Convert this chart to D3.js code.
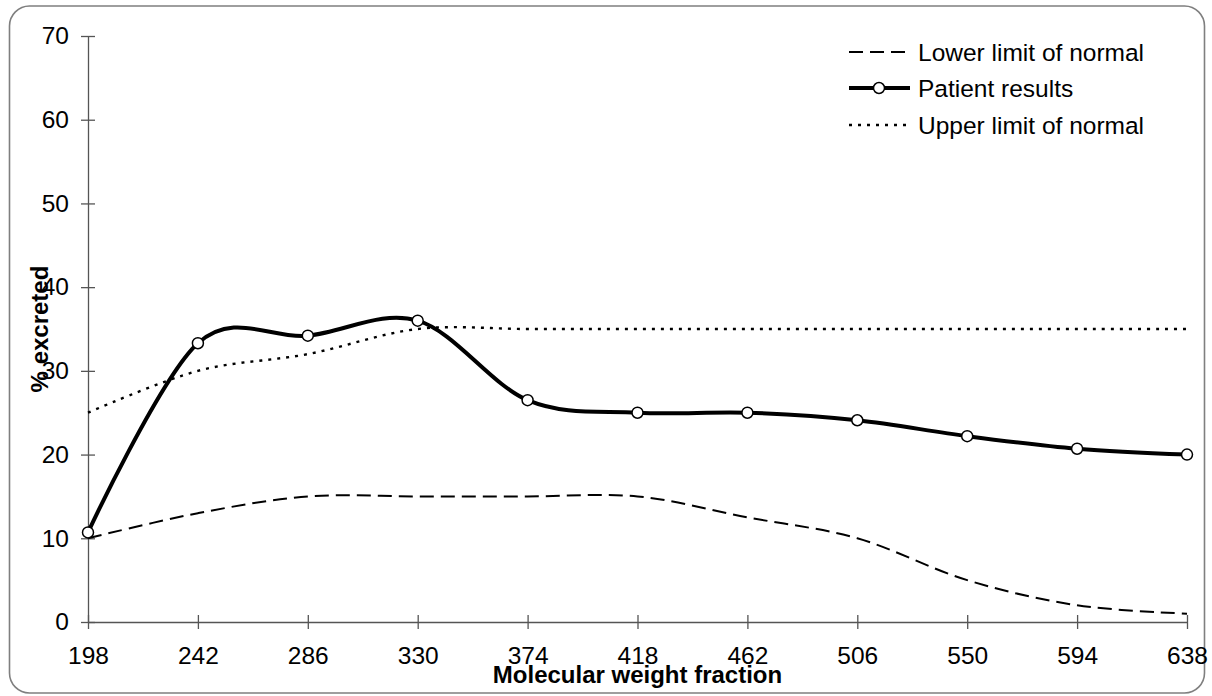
<!DOCTYPE html>
<html>
<head>
<meta charset="utf-8">
<script src="https://cdn.jsdelivr.net/npm/d3@7"></script>
<style>
  body { margin: 0; background: #fff; }
  svg { display: block; font-family: "Liberation Sans", Arial, sans-serif; }
</style>
</head>
<body>
<div id="vis"></div>
<script>
// frame + plot area
const FRAME_WIDTH = 1212;
const FRAME_HEIGHT = 696;
const MARGINS = {left: 88, right: 25, top: 36, bottom: 74};

// data
const categories = ["198", "242", "286", "330", "374", "418", "462", "506", "550", "594", "638"];
const lowerLimit = [10, 13, 15, 15, 15, 15, 12.5, 10, 5, 2, 1];
const patient = [10.7, 33.3, 34.2, 36, 26.5, 25, 25, 24.1, 22.2, 20.7, 20];
const upperLimit = [25, 30, 32, 35, 35, 35, 35, 35, 35, 35, 35];
const yTicks = [0, 10, 20, 30, 40, 50, 60, 70];

const seriesNames = ["Lower limit of normal", "Patient results", "Upper limit of normal"];

const VIS_WIDTH = FRAME_WIDTH - MARGINS.left - MARGINS.right;
const VIS_HEIGHT = FRAME_HEIGHT - MARGINS.top - MARGINS.bottom;

const FRAME = d3.select("#vis")
  .append("svg")
    .attr("width", FRAME_WIDTH)
    .attr("height", FRAME_HEIGHT);

// rounded outer border
FRAME.append("rect")
  .attr("x", 9.5).attr("y", 6)
  .attr("width", 1195).attr("height", 687)
  .attr("rx", 20).attr("ry", 20)
  .attr("fill", "none")
  .attr("stroke", "#7f7f7f")
  .attr("stroke-width", 1.6);

const X_SCALE = d3.scalePoint()
  .domain(categories)
  .range([MARGINS.left, MARGINS.left + VIS_WIDTH]);

const Y_SCALE = d3.scaleLinear()
  .domain([0, 70])
  .range([MARGINS.top + VIS_HEIGHT, MARGINS.top]);

// y axis
const yAxis = FRAME.append("g")
  .attr("transform", "translate(" + MARGINS.left + ",0)")
  .call(d3.axisLeft(Y_SCALE).tickValues(yTicks).tickSizeInner(7).tickSizeOuter(0).tickPadding(12));
yAxis.selectAll(".tick line").attr("x1", 7).attr("x2", -7);

// x axis
const xAxis = FRAME.append("g")
  .attr("transform", "translate(0," + (MARGINS.top + VIS_HEIGHT) + ")")
  .call(d3.axisBottom(X_SCALE).tickSizeInner(7).tickSizeOuter(0).tickPadding(18));
xAxis.selectAll(".tick line").attr("y1", -7).attr("y2", 7);

FRAME.selectAll(".domain, .tick line")
  .attr("stroke", "#555")
  .attr("stroke-width", 1.3);
FRAME.selectAll(".tick text")
  .attr("font-size", "24.5px")
  .attr("font-family", "Liberation Sans, Arial, sans-serif")
  .attr("fill", "#000");

// axis titles
FRAME.append("text")
  .attr("x", MARGINS.left + VIS_WIDTH / 2)
  .attr("y", 683)
  .attr("text-anchor", "middle")
  .attr("font-size", "24px")
  .attr("font-weight", "bold")
  .text("Molecular weight fraction");

FRAME.append("text")
  .attr("transform", "translate(48," + (MARGINS.top + VIS_HEIGHT / 2) + ") rotate(-90)")
  .attr("text-anchor", "middle")
  .attr("font-size", "24px")
  .attr("font-weight", "bold")
  .text("% excreted");

// lines
const line = d3.line()
  .x((d, i) => X_SCALE(categories[i]))
  .y((d) => Y_SCALE(d))
  .curve(d3.curveCardinal.tension(0));

FRAME.append("path")
  .datum(lowerLimit)
  .attr("d", line)
  .attr("fill", "none")
  .attr("stroke", "#000")
  .attr("stroke-width", 2)
  .attr("stroke-dasharray", "14,7");

FRAME.append("path")
  .datum(upperLimit)
  .attr("d", line)
  .attr("fill", "none")
  .attr("stroke", "#000")
  .attr("stroke-width", 2.4)
  .attr("stroke-dasharray", "3,6");

FRAME.append("path")
  .datum(patient)
  .attr("d", line)
  .attr("fill", "none")
  .attr("stroke", "#000")
  .attr("stroke-width", 4);

FRAME.selectAll("points")
  .data(patient)
  .enter()
  .append("circle")
    .attr("cx", (d, i) => X_SCALE(categories[i]))
    .attr("cy", (d) => Y_SCALE(d))
    .attr("r", 5.5)
    .attr("fill", "#fff")
    .attr("stroke", "#000")
    .attr("stroke-width", 1.5);

// legend
const LEG_X = 849;
const LEG_Y = [52, 88, 125];
const legend = FRAME.append("g");
const dashes = ["14,7", null, "3,6"];
const widths = [2, 4, 2.4];
seriesNames.forEach((name, i) => {
  legend.append("line")
    .attr("x1", LEG_X).attr("x2", LEG_X + 61)
    .attr("y1", LEG_Y[i]).attr("y2", LEG_Y[i])
    .attr("stroke", "#000")
    .attr("stroke-width", widths[i])
    .attr("stroke-dasharray", dashes[i]);
  if (i === 1) {
    legend.append("circle")
      .attr("cx", LEG_X + 30).attr("cy", LEG_Y[i]).attr("r", 5.5)
      .attr("fill", "#fff").attr("stroke", "#000").attr("stroke-width", 1.5);
  }
  legend.append("text")
    .attr("x", LEG_X + 69)
    .attr("y", LEG_Y[i] + 8.5)
    .attr("font-size", "24.5px")
    .text(name);
});
</script>
</body>
</html>
